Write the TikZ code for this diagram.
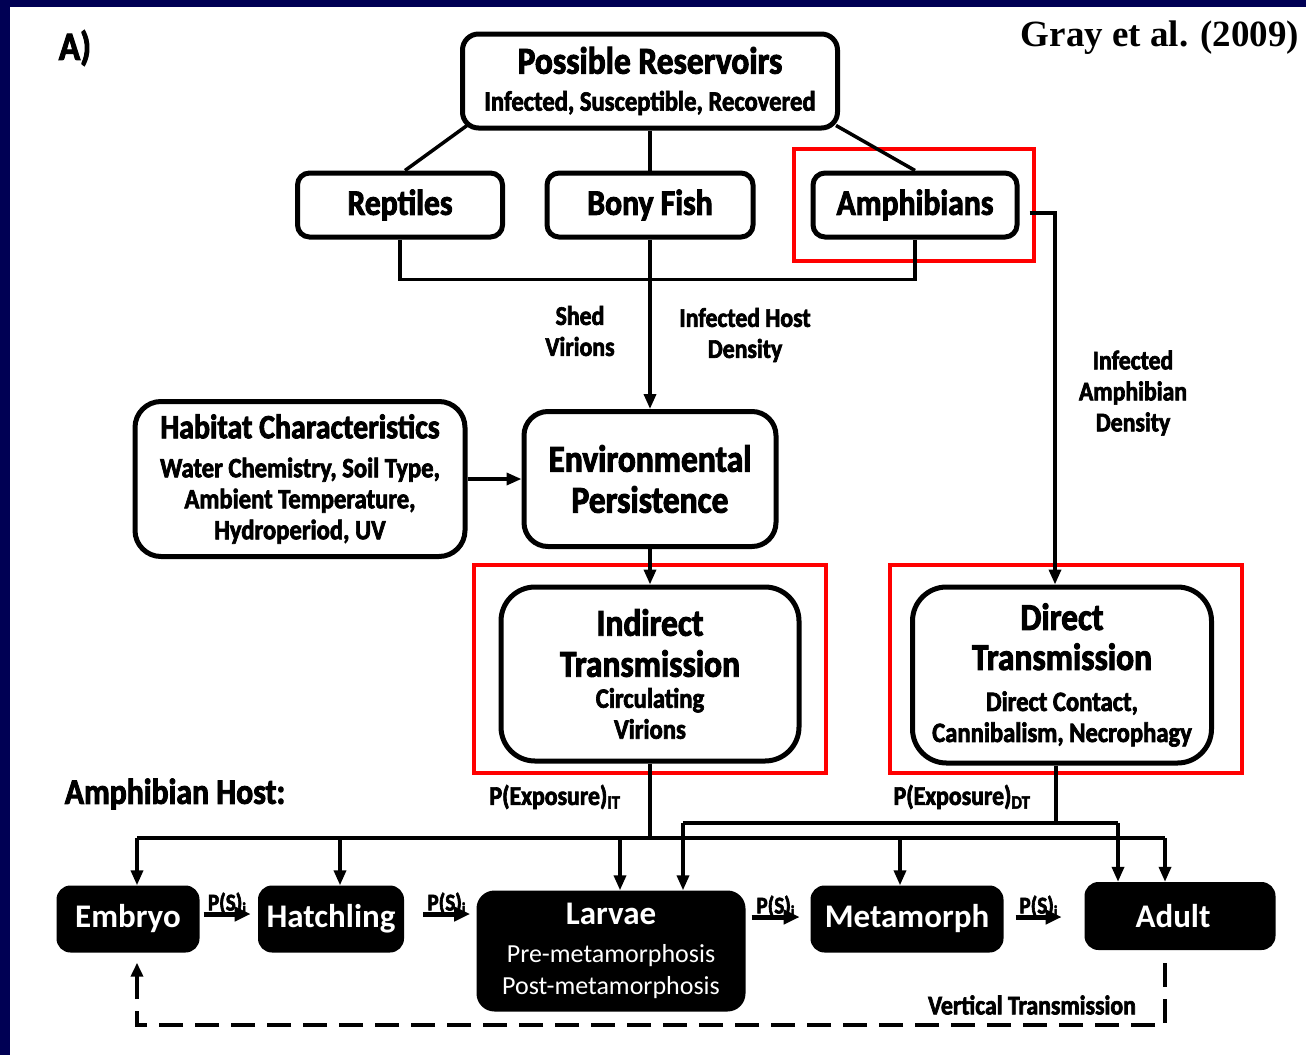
\documentclass[tikz,border=0pt]{standalone}
\usepackage{fontspec}
\setmainfont{Carlito}
\newfontfamily\heavyfont{Carlito}[FakeStretch=0.88,FakeBold=2.5]
\newfontfamily\citefont{Liberation Serif}
\usetikzlibrary{arrows.meta}

\newlength{\du}
\setlength{\du}{1pt}
\newcommand{\heavy}[2]{\heavyfont\bfseries\fontsize{#1}{#2}\selectfont}

\definecolor{slidenavy}{rgb}{0.000000, 0.000000, 0.330000}
\definecolor{hilitered}{rgb}{1.000000, 0.000000, 0.000000}

\tikzset{
  hostbox/.style={draw, line width=5\du, rounded corners=16\du, fill=white, align=center, inner sep=0pt},
  stagebox/.style={fill=black, text=white, rounded corners=14\du, align=center, inner sep=0pt},
  link/.style={line width=3.5\du},
  arr/.style={link, -{Triangle[length=15pt,width=12pt]}},
  stagearr/.style={line width=5\du, -{Triangle[length=16pt,width=14pt]}},
  vtrans/.style={line width=4\du, dash pattern=on 24pt off 12pt},
  hilite/.style={draw=hilitered, line width=4\du},
  lbl/.style={align=center, inner sep=0pt, font=\heavy{27}{31}}
}

\begin{document}
\begin{tikzpicture}
\pgftransformxscale{1.000000}
\pgftransformyscale{-1.000000}
\useasboundingbox (0,0) rectangle (1306\du,1055\du);
% slide background
\fill[slidenavy] (0,0) rectangle (1306\du,1055\du);
\fill[white] (10\du,7\du) rectangle (1306\du,1055\du);

\node[font=\heavy{40}{44}] (panel) at (75\du,48\du) {A)};
\node[font=\citefont\bfseries\fontsize{37}{40}\selectfont] (cite) at (1160\du,38\du) {Gray et al. (2009)};

% reservoirs
\node[hostbox, minimum width=375\du, minimum height=94\du, font=\heavy{38}{37}] (res) at (650\du,81\du)
  {Possible Reservoirs\\{\heavy{28}{30}Infected, Susceptible, Recovered}};
\node[hostbox, minimum width=205\du, minimum height=64\du, rounded corners=12\du, font=\heavy{36}{40}] (rep) at (400\du,205\du) {Reptiles};
\node[hostbox, minimum width=206\du, minimum height=64\du, rounded corners=12\du, font=\heavy{36}{40}] (fish) at (650\du,205\du) {Bony Fish};
\node[hostbox, minimum width=204\du, minimum height=64\du, rounded corners=12\du, font=\heavy{36}{40}] (amph) at (915\du,205\du) {Amphibians};

% habitat and persistence
\node[hostbox, minimum width=330\du, minimum height=155\du, rounded corners=26\du, font=\heavy{28}{31}] (hab) at (300\du,479\du)
  {{\heavy{34}{36}Habitat Characteristics}\\[8\du]Water Chemistry, Soil Type,\\Ambient Temperature,\\Hydroperiod, UV};
\node[hostbox, minimum width=252\du, minimum height=135\du, rounded corners=24\du, font=\heavy{38}{41}] (env) at (650\du,479\du)
  {Environmental\\Persistence};

% transmission
\node[hostbox, minimum width=298\du, minimum height=174\du, rounded corners=34\du, font=\heavy{28}{31}] (ind) at (650\du,674\du)
  {{\heavy{38}{40}Indirect}\\[10\du]{\heavy{38}{40}Transmission}\\Circulating\\Virions};
\node[hostbox, minimum width=299\du, minimum height=176\du, rounded corners=34\du, font=\heavy{28}{31}] (dir) at (1062\du,675\du)
  {{\heavy{38}{40}Direct}\\[9\du]{\heavy{38}{40}Transmission}\\[10\du]Direct Contact,\\Cannibalism, Necrophagy};

\draw[hilite] (794\du,149\du) rectangle (1034\du,261\du);
\draw[hilite] (474\du,565\du) rectangle (826\du,773\du);
\draw[hilite] (890\du,565\du) rectangle (1242\du,773\du);

% life stages
\node[font=\heavy{36}{40}] (hostlbl) at (175\du,794\du) {Amphibian Host:};
\node[stagebox, minimum width=143\du, minimum height=67\du, font=\bfseries\fontsize{33}{36}\selectfont] (emb) at (128\du,919\du) {Embryo};
\node[stagebox, minimum width=146\du, minimum height=67\du, font=\bfseries\fontsize{33}{36}\selectfont] (hat) at (331\du,919\du) {Hatchling};
\node[stagebox, minimum width=269\du, minimum height=121\du, rounded corners=18\du, font=\fontsize{26}{32}\selectfont] (lar) at (611\du,951\du)
  {{\bfseries\fontsize{33}{36}\selectfont Larvae}\\[6\du]Pre-metamorphosis\\Post-metamorphosis};
\node[stagebox, minimum width=193\du, minimum height=67\du, font=\bfseries\fontsize{33}{36}\selectfont] (met) at (907\du,919\du) {Metamorph};
\node[stagebox, minimum width=191\du, minimum height=68\du, font=\bfseries\fontsize{33}{36}\selectfont] (adu) at (1180\du,916\du) {Adult\hspace*{14\du}};

% reservoir links
\draw[link] ([xshift=7\du,yshift=-5\du]res.south west) -- ([xshift=5\du]rep.north);
\draw[link] (res.south) -- (fish.north);
\draw[link] ([xshift=-4\du,yshift=-5\du]res.south east) -- (amph.north);
\draw[link] (rep.south) -- ++(0,40\du) -| (amph.south);
\draw[arr] (fish.south) -- (env.north);
\draw[arr] ([xshift=10\du,yshift=8\du]amph.east) -| ([xshift=-7\du]dir.north);
\draw[arr] (hab.east) -- (env.west);
\draw[arr] (env.south) -- (ind.north);

\node[lbl] (shed) at (580\du,331\du) {Shed\\Virions};
\node[lbl] (ihd) at (745\du,335\du) {Infected Host\\Density};
\node[lbl] (iad) at (1133\du,393\du) {Infected\\Amphibian\\Density};
\node[lbl] (pit) at (555\du,797\du) {P(Exposure)\textsubscript{IT}};
\node[lbl] (pdt) at (962\du,797\du) {P(Exposure)\textsubscript{DT}};

% exposure buses
\coordinate (demb) at (137\du,838\du);
\coordinate (dhat) at (340\du,838\du);
\coordinate (dlar) at (620\du,838\du);
\coordinate (dmet) at (900\du,838\du);
\coordinate (dadu) at (1165\du,838\du);
\coordinate (elar) at (683\du,823\du);
\coordinate (eadu) at (1118\du,823\du);
\coordinate (dout) at (1056\du,823\du);
\draw[link] (ind.south) -- (ind.south |- demb);
\draw[link] (demb) -- (dadu);
\draw[arr] (demb) -- (demb |- emb.north);
\draw[arr] (dhat) -- (dhat |- hat.north);
\draw[arr] (dlar) -- (dlar |- lar.north);
\draw[arr] (dmet) -- (dmet |- met.north);
\draw[arr] (dadu) -- (dadu |- adu.north);
\draw[link] ([xshift=-6\du]dir.south) -- (dout);
\draw[link] (elar) -- (eadu);
\draw[arr] (elar) -- (elar |- lar.north);
\draw[arr] (eadu) -- (eadu |- adu.north);

% survival
\draw[stagearr] (emb.east) ++(4\du,-5\du) -- ++(47\du,0) node[midway, anchor=south, yshift=-6\du, font=\heavy{24}{26}] (ps1) {P(S)\textsubscript{i}};
\draw[stagearr] (hat.east) ++(19\du,-5\du) -- ++(47\du,0) node[midway, anchor=south, yshift=-6\du, font=\heavy{24}{26}] (ps2) {P(S)\textsubscript{i}};
\draw[stagearr] (lar.east |- met.west) ++(6\du,-2\du) -- ++(48\du,0) node[midway, anchor=south, yshift=-6\du, font=\heavy{24}{26}] (ps3) {P(S)\textsubscript{i}};
\draw[stagearr] (met.east) ++(12\du,-2\du) -- ++(46\du,0) node[midway, anchor=south, yshift=-6\du, font=\heavy{24}{26}] (ps4) {P(S)\textsubscript{i}};

% vertical transmission
\draw[vtrans, -{Triangle[length=14pt,width=12pt]}] ([xshift=-15\du,yshift=13\du]adu.south) -- ++(0,62\du) -| ([xshift=9\du,yshift=10\du]emb.south);
\node[lbl] (vtlbl) at (1032\du,1005\du) {Vertical Transmission};
\end{tikzpicture}
\end{document}
